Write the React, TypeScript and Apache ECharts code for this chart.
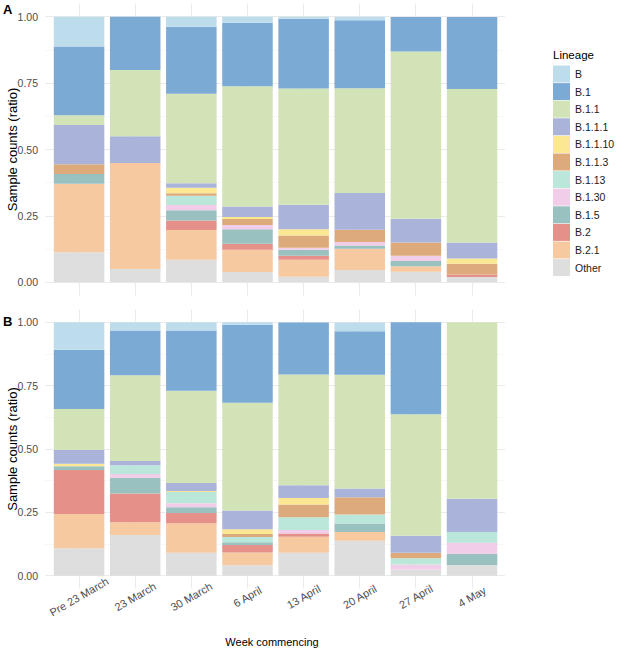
import React, { useEffect, useRef } from "react";
import * as echarts from "echarts";

const categories = ["Pre 23 March", "23 March", "30 March", "6 April", "13 April", "20 April", "27 April", "4 May"];
const lineages = ["B", "B.1", "B.1.1", "B.1.1.1", "B.1.1.10", "B.1.1.3", "B.1.13", "B.1.30", "B.1.5", "B.2", "B.2.1", "Other"];
const lineageColors = ["#BDDCEC", "#7BAAD5", "#D3E3B8", "#AAB3DA", "#FCE793", "#DDAB7B", "#BBE6DA", "#F2CDEA", "#98C1BF", "#E59089", "#F7C9A1", "#DEDEDE"];
const yTicks = [0, 0.25, 0.5, 0.75, 1];

// Panel A values, one array per lineage (order as in lineages)
const panelA_B = [0.112, 0, 0.038, 0.023, 0.008, 0.013, 0, 0];
const panelA_B1 = [0.259, 0.201, 0.252, 0.239, 0.262, 0.256, 0.13, 0.271];
const panelA_B11 = [0.037, 0.249, 0.337, 0.453, 0.438, 0.395, 0.63, 0.578];
const panelA_B111 = [0.148, 0.101, 0.017, 0.039, 0.092, 0.138, 0.089, 0.06];
const panelA_B1110 = [0, 0, 0.021, 0.008, 0.024, 0, 0, 0.02];
const panelA_B113 = [0.036, 0, 0.009, 0.022, 0.046, 0.046, 0.05, 0.041];
const panelA_B113b = [0, 0, 0.035, 0, 0, 0, 0, 0];
const panelA_B130 = [0, 0, 0.02, 0.016, 0.007, 0.013, 0.02, 0];
const panelA_B15 = [0.037, 0, 0.038, 0.055, 0.023, 0.013, 0.02, 0];
const panelA_B2 = [0, 0, 0.036, 0.022, 0.015, 0, 0, 0.009];
const panelA_B21 = [0.258, 0.399, 0.112, 0.084, 0.064, 0.08, 0.02, 0];
const panelA_Other = [0.113, 0.05, 0.085, 0.039, 0.021, 0.046, 0.04, 0.02];

// Panel B values
const panelB_B = [0.108, 0.032, 0.032, 0.011, 0, 0.034, 0, 0];
const panelB_B1 = [0.234, 0.177, 0.238, 0.307, 0.205, 0.172, 0.363, 0];
const panelB_B11 = [0.162, 0.338, 0.364, 0.426, 0.437, 0.449, 0.479, 0.696];
const panelB_B111 = [0.054, 0.017, 0.032, 0.074, 0.05, 0.034, 0.067, 0.132];
const panelB_B1110 = [0.01, 0, 0.004, 0.018, 0.026, 0, 0, 0];
const panelB_B113 = [0, 0, 0, 0.012, 0.05, 0.068, 0.022, 0];
const panelB_B113b = [0, 0.035, 0.044, 0.021, 0.051, 0.036, 0.025, 0.042];
const panelB_B130 = [0, 0.014, 0.016, 0, 0.013, 0, 0.02, 0.043];
const panelB_B15 = [0.015, 0.063, 0.023, 0.011, 0, 0.034, 0, 0.045];
const panelB_B2 = [0.174, 0.113, 0.04, 0.029, 0.013, 0, 0, 0];
const panelB_B21 = [0.135, 0.05, 0.116, 0.051, 0.063, 0.034, 0, 0];
const panelB_Other = [0.108, 0.161, 0.091, 0.041, 0.091, 0.138, 0.024, 0.042];

const panelA = [panelA_B, panelA_B1, panelA_B11, panelA_B111, panelA_B1110, panelA_B113, panelA_B113b, panelA_B130, panelA_B15, panelA_B2, panelA_B21, panelA_Other];
const panelB = [panelB_B, panelB_B1, panelB_B11, panelB_B111, panelB_B1110, panelB_B113, panelB_B113b, panelB_B130, panelB_B15, panelB_B2, panelB_B21, panelB_Other];

const FONT = "'Liberation Sans', Arial, Helvetica, sans-serif";
const GRID_COLOR = "#EBEBEB";

export default function App() {
  const ref = useRef<HTMLDivElement>(null);

  useEffect(() => {
    document.body.style.margin = "0";
    if (!ref.current) return;
    const chart = echarts.init(ref.current, undefined, { renderer: "svg" });

    const panels = [
      { top: 16.7, height: 265.6 },
      { top: 322.3, height: 253.4 },
    ];
    const plotLeft = 51;
    const plotRight = 617 - 500.1;

    const grids: any[] = [];
    const xAxes: any[] = [];
    const yAxes: any[] = [];
    // main grids 0,1
    panels.forEach((p) => grids.push({ left: plotLeft, right: plotRight, top: p.top, height: p.height }));
    // horizontal gridline grids 2,3
    panels.forEach((p) => grids.push({ left: 45, right: 617 - 505, top: p.top, height: p.height }));
    // vertical gridline grids 4,5
    panels.forEach((p) => {
      const ext = p.height * 0.05;
      grids.push({ left: 79, right: 617 - 471.8, top: p.top - ext, height: p.height + 2 * ext });
    });

    panels.forEach((_, i) => {
      xAxes.push({
        type: "category",
        gridIndex: i,
        data: categories,
        axisLine: { show: false },
        axisTick: { show: false },
        splitLine: { show: false },
        axisLabel: i === 1
          ? {
              show: true,
              interval: 0,
              rotate: 30,
              align: "center",
              verticalAlign: "middle",
              margin: 21,
              fontSize: 11,
              color: "#4D4D4D",
              fontFamily: FONT,
            }
          : { show: false },
      });
      yAxes.push({
        type: "value",
        gridIndex: i,
        min: 0,
        max: 1,
        interval: 0.25,
        axisLine: { show: false },
        axisTick: { show: false },
        splitLine: { show: false },
        axisLabel: {
          show: true,
          margin: 13,
          fontSize: 10.5,
          color: "#4D4D4D",
          fontFamily: FONT,
          formatter: (v: number) => (yTicks.includes(v) ? v.toFixed(2) : ""),
        },
      });
    });
    panels.forEach((_, i) => {
      xAxes.push({ type: "value", gridIndex: 2 + i, min: 0, max: 1, show: false });
      yAxes.push({
        type: "value",
        gridIndex: 2 + i,
        min: 0,
        max: 1,
        interval: 0.25,
        axisLine: { show: false },
        axisTick: { show: false },
        axisLabel: { show: false },
        splitLine: { show: true, lineStyle: { color: GRID_COLOR, width: 1 } },
        minorTick: { show: false, splitNumber: 2 },
        minorSplitLine: { show: true, lineStyle: { color: "#F3F3F3", width: 0.7 } },
      });
    });
    panels.forEach((_, i) => {
      xAxes.push({
        type: "category",
        gridIndex: 4 + i,
        data: categories,
        boundaryGap: false,
        axisLine: { show: false },
        axisTick: { show: false },
        axisLabel: { show: false },
        splitLine: { show: true, interval: 0, lineStyle: { color: GRID_COLOR, width: 1 } },
      });
      yAxes.push({ type: "value", gridIndex: 4 + i, min: 0, max: 1, show: false });
    });

    const series: any[] = [];
    [panelA, panelB].forEach((panel, pi) => {
      for (let k = lineages.length - 1; k >= 0; k--) {
        series.push({
          type: "bar",
          name: lineages[k],
          stack: "panel" + pi,
          xAxisIndex: pi,
          yAxisIndex: pi,
          barCategoryGap: "10%",
          data: panel[k],
          itemStyle: { color: lineageColors[k] },
          emphasis: { disabled: true },
        });
      }
    });

    chart.setOption({
      animation: false,
      textStyle: { fontFamily: FONT },
      grid: grids,
      xAxis: xAxes,
      yAxis: yAxes,
      legend: {
        data: lineages,
        orient: "vertical",
        left: 553,
        top: 65.5,
        padding: 0,
        itemWidth: 17,
        itemHeight: 17,
        itemGap: 0.6,
        icon: "rect",
        selectedMode: false,
        textStyle: { fontSize: 10.5, color: "#1A1A1A", fontFamily: FONT },
      },
      graphic: [
        { type: "text", x: 3, y: 9, style: { text: "A", fontSize: 13, fontWeight: "bold", fill: "#000", textVerticalAlign: "middle", fontFamily: FONT } },
        { type: "text", x: 3, y: 321, style: { text: "B", fontSize: 13, fontWeight: "bold", fill: "#000", textVerticalAlign: "middle", fontFamily: FONT } },
        { type: "text", x: 12.5, y: 149.5, rotation: Math.PI / 2, style: { text: "Sample counts (ratio)", fontSize: 13, fill: "#000", textAlign: "center", textVerticalAlign: "middle", fontFamily: FONT } },
        { type: "text", x: 12.5, y: 449, rotation: Math.PI / 2, style: { text: "Sample counts (ratio)", fontSize: 13, fill: "#000", textAlign: "center", textVerticalAlign: "middle", fontFamily: FONT } },
        { type: "text", x: 272, y: 642, style: { text: "Week commencing", fontSize: 11, fill: "#000", textAlign: "center", textVerticalAlign: "middle", fontFamily: FONT } },
        { type: "text", x: 553, y: 55, style: { text: "Lineage", fontSize: 11.5, fill: "#000", textVerticalAlign: "middle", fontFamily: FONT } },
      ],
      series,
    });

    return () => chart.dispose();
  }, []);

  return <div ref={ref} style={{ width: 617, height: 653 }} />;
}
